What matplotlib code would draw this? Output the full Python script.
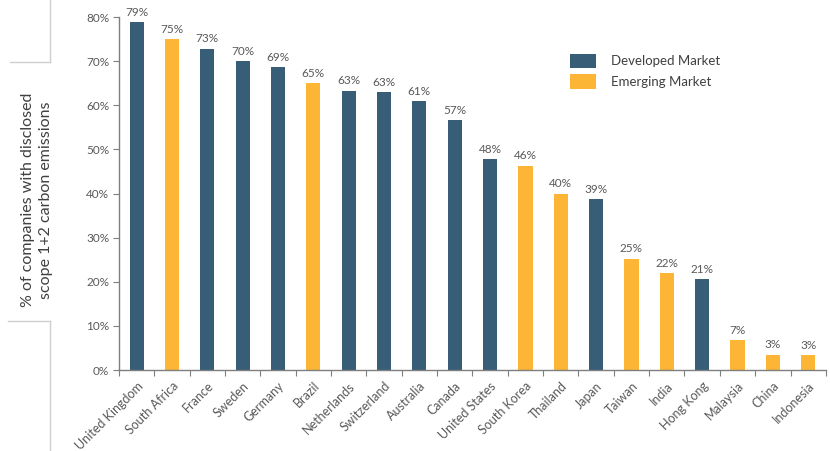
import matplotlib
matplotlib.use("Agg")
import matplotlib.pyplot as plt
from matplotlib.patches import Patch
from matplotlib.lines import Line2D

countries = ["United Kingdom", "South Africa", "France", "Sweden", "Germany", "Brazil",
             "Netherlands", "Switzerland", "Australia", "Canada", "United States",
             "South Korea", "Thailand", "Japan", "Taiwan", "India", "Hong Kong",
             "Malaysia", "China", "Indonesia"]
values = [78.8, 75.0, 72.8, 70.0, 68.6, 65.0, 63.3, 63.0, 60.9, 56.6, 47.8,
          46.3, 40.0, 38.7, 25.2, 22.0, 20.6, 6.8, 3.5, 3.3]
labels = ["79%", "75%", "73%", "70%", "69%", "65%", "63%", "63%", "61%", "57%", "48%",
          "46%", "40%", "39%", "25%", "22%", "21%", "7%", "3%", "3%"]
market = ["D", "E", "D", "D", "D", "E", "D", "D", "D", "D", "D",
          "E", "E", "D", "E", "E", "D", "E", "E", "E"]
yticks = [0, 10, 20, 30, 40, 50, 60, 70, 80]

BLUE = "#375d77"
ORANGE = "#fdb535"
GRAY = "#595959"

plt.rcParams['font.family'] = ['Lato', 'DejaVu Sans']

fig = plt.figure(figsize=(8.30, 4.51), dpi=100)
ax = fig.add_axes([0.1434, 0.1796, 0.995 - 0.1434, 0.9623 - 0.1796])

colors = [BLUE if m == "D" else ORANGE for m in market]
x = list(range(len(countries)))
ax.bar(x, values, width=0.4, color=colors, edgecolor="none")
for xi, v, lab in zip(x, values, labels):
    ax.text(xi, v + 1.0, lab, ha="center", va="bottom", fontsize=8.5, color=GRAY)

ax.set_xlim(-0.5, len(countries) - 0.5)
ax.set_ylim(0, 80)
ax.set_yticks(yticks)
ax.set_yticklabels([f"{t}%" for t in yticks], fontsize=8.5, color=GRAY)
ax.set_xticks([i - 0.5 for i in range(len(countries) + 1)], minor=False)
ax.set_xticklabels([])
ax.set_xticks(x, minor=True)
ax.set_xticklabels(countries, minor=True, rotation=45, ha="right",
                   rotation_mode="anchor", fontsize=9, color=GRAY)
ax.tick_params(axis="x", which="minor", length=0, pad=7)
ax.tick_params(axis="x", which="major", length=4, color="#7f7f7f", direction="out")
ax.tick_params(axis="y", length=4, color="#7f7f7f", direction="out", pad=3)

for s in ["top", "right"]:
    ax.spines[s].set_visible(False)
for s in ["left", "bottom"]:
    ax.spines[s].set_color("#7f7f7f")
    ax.spines[s].set_linewidth(1.0)

fig.text(37 / 830, 1 - 200 / 451, "% of companies with disclosed\nscope 1+2 carbon emissions",
         rotation=90, ha="center", va="center", fontsize=11.5, color="#404040",
         linespacing=1.45)

# decorative bracket lines
lc = "#cfcfcf"
fig.add_artist(Line2D([50 / 830, 50 / 830], [1, 1 - 62 / 451], transform=fig.transFigure, color=lc, lw=1))
fig.add_artist(Line2D([10 / 830, 50 / 830], [1 - 62 / 451, 1 - 62 / 451], transform=fig.transFigure, color=lc, lw=1))
fig.add_artist(Line2D([8 / 830, 50 / 830], [1 - 321 / 451, 1 - 321 / 451], transform=fig.transFigure, color=lc, lw=1))
fig.add_artist(Line2D([50 / 830, 50 / 830], [1 - 321 / 451, 0], transform=fig.transFigure, color=lc, lw=1))

handles = [Patch(facecolor=BLUE, label="Developed Market"),
           Patch(facecolor=ORANGE, label="Emerging Market")]
fig.legend(handles=handles, loc="upper left", bbox_to_anchor=(558 / 830, 1 - 42 / 451),
           frameon=False, fontsize=9.5, handlelength=2.0, handleheight=1.3,
           labelspacing=0.45, handletextpad=1.1, labelcolor="#404040")

fig.savefig("out.png", dpi=100)
